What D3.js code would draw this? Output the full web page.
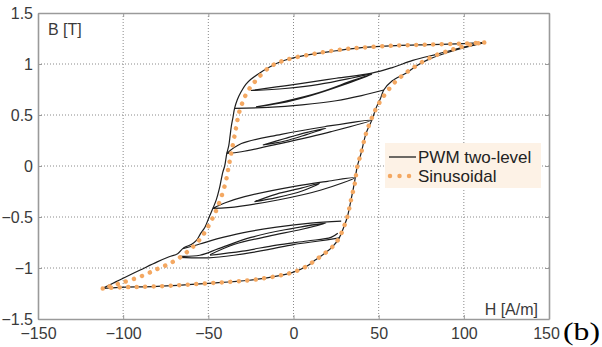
<!DOCTYPE html>
<html>
<head>
<meta charset="utf-8">
<script src="https://cdn.jsdelivr.net/npm/d3@7"></script>
<style>
  html, body { margin: 0; padding: 0; background: #fff; }
  svg { display: block; }
</style>
</head>
<body>
<svg id="chart" width="602" height="347"></svg>
<script>
// Axis ticks
const xTicks = [-150, -100, -50, 0, 50, 100, 150];
const yTicks = [-1.5, -1, -0.5, 0, 0.5, 1, 1.5];

// Sinusoidal excitation: major hysteresis loop [H (A/m), B (T)]
const sinDescending = [
  [112, 1.21], [100, 1.2], [80, 1.19], [60, 1.18], [40, 1.16], [25, 1.135], [12, 1.1],
  [0, 1.06], [-8, 1.02], [-14, 0.97], [-22, 0.84], [-27, 0.73], [-30, 0.62], [-32, 0.52],
  [-34, 0.35], [-36.5, 0.13], [-38, 0.0], [-40, -0.17], [-44.5, -0.4], [-49, -0.56],
  [-55, -0.72], [-63, -0.85], [-72, -0.95], [-80, -1.01], [-90, -1.085], [-102, -1.15], [-112, -1.2]
];
const sinAscending = [
  [-112, -1.2], [-102, -1.19], [-80, -1.18], [-50, -1.15], [-26, -1.12], [-10, -1.08],
  [0, -1.04], [8, -0.98], [13, -0.92], [18, -0.86], [23, -0.79], [27, -0.7], [29.5, -0.6],
  [31.6, -0.5], [33.8, -0.33], [36, -0.17], [37.5, 0.0], [39.6, 0.12], [42.6, 0.32],
  [45.5, 0.45], [49, 0.58], [54, 0.71], [60, 0.83], [65, 0.9], [70, 0.96], [80, 1.06],
  [93, 1.14], [107, 1.2], [112, 1.21]
];

// PWM two-level excitation: outer branches
const pwmDescending = [
  [112, 1.21], [100, 1.2], [80, 1.19], [60, 1.18], [40, 1.16], [25, 1.13], [12, 1.1],
  [0, 1.06], [-8, 1.02], [-14, 0.97], [-20, 0.91], [-25, 0.85], [-28, 0.8], [-31, 0.72],
  [-33, 0.65], [-34.6, 0.565], [-35.5, 0.48], [-36.5, 0.39], [-37.2, 0.3], [-38, 0.2],
  [-39.2, 0.12], [-40.4, 0.0], [-41.5, -0.06], [-42.4, -0.13], [-43.5, -0.22], [-45.3, -0.33],
  [-47.3, -0.415], [-49.5, -0.5], [-52, -0.6], [-54.5, -0.66], [-57, -0.73], [-60, -0.77],
  [-63, -0.79], [-65, -0.81], [-68, -0.86], [-73, -0.89], [-80, -0.94], [-90, -1.02],
  [-100, -1.1], [-106, -1.15], [-112, -1.2]
];
const pwmAscending = [
  [-112, -1.2], [-102, -1.19], [-80, -1.18], [-50, -1.15], [-26, -1.12], [-10, -1.08],
  [0, -1.04], [8, -0.98], [13, -0.92], [18, -0.86], [23, -0.79], [27, -0.7], [29.5, -0.6],
  [31.6, -0.5], [33.8, -0.33], [35.7, -0.17], [37.5, 0.0], [39.6, 0.12], [42.6, 0.32],
  [46, 0.45], [48.5, 0.57], [51, 0.66], [53, 0.745], [58, 0.835], [66, 0.91], [73, 0.99],
  [80, 1.05], [90, 1.11], [99, 1.155], [112, 1.21]
];

// PWM two-level excitation: minor loops, lowest level first
const pwmMinorA = [
  [[-65, -0.81], [-55, -0.765], [-45, -0.715], [-30, -0.655], [-10, -0.6], [10, -0.56], [28, -0.54]],
  [[-67, -0.885], [-55, -0.875], [-44, -0.81], [-25, -0.7], [-5, -0.625], [19, -0.56],
   [5, -0.62], [-15, -0.69], [-35, -0.77], [-49, -0.87]],
  [[-67, -0.895], [-50, -0.9], [-35, -0.875], [-15, -0.82], [0, -0.77], [15, -0.735], [27, -0.705]],
  [[-49, -0.875], [-30, -0.835], [-10, -0.775], [8, -0.735], [22, -0.7], [26, -0.66]]
];
const pwmMinorB = [
  [[-47.3, -0.415], [-40, -0.36], [-28.7, -0.3], [0.6, -0.2], [20, -0.15], [35.7, -0.115],
   [16.2, -0.235], [-9.2, -0.333], [-38.5, -0.409], [-47.3, -0.415]],
  [[-22.9, -0.35], [-10, -0.275], [5, -0.215], [15.2, -0.17], [5, -0.245], [-10, -0.31], [-22.9, -0.35]]
];
const pwmMinorC = [
  [[-39.2, 0.124], [-30.6, 0.22], [-7.2, 0.31], [18.2, 0.385], [46, 0.45],
   [22.1, 0.337], [-7.2, 0.222], [-30.6, 0.14], [-39.2, 0.124]],
  [[-18, 0.206], [-5, 0.27], [8, 0.33], [19, 0.37], [8, 0.31], [-5, 0.245], [-18, 0.206]]
];
const pwmMinorD = [
  [[-25, 0.74], [-10, 0.775], [5, 0.81], [25, 0.86], [46, 0.91], [58, 0.965], [70, 1.035],
   [85, 1.1], [100, 1.165], [112, 1.21]],
  [[-25, 0.74], [-5, 0.76], [15, 0.8], [35, 0.865], [46, 0.905]],
  [[-22, 0.58], [-5, 0.635], [15, 0.72], [35, 0.84], [46, 0.9], [30, 0.8], [10, 0.69],
   [-8, 0.615], [-22, 0.58]],
  [[-34.6, 0.565], [-15, 0.575], [5, 0.6], [25, 0.64], [40, 0.69], [53, 0.745]]
];

const legendItems = ["PWM two-level", "Sinusoidal"];

// Layout
const plotLeft = 38, plotRight = 549, plotTop = 13, plotBottom = 319;
const x = d3.scaleLinear().domain([-150, 150]).range([plotLeft, plotRight]);
const y = d3.scaleLinear().domain([-1.5, 1.5]).range([plotBottom, plotTop]);

const svg = d3.select("#chart");
const font = "Arial, 'Liberation Sans', sans-serif";
const axisGrey = "#9a9a9a";
const textGrey = "#3a3a3a";
const sinColor = "#f4a862";
const pwmColor = "#1e1e1e";

// Dotted grid
const grid = svg.append("g");
grid.selectAll(".gx").data(xTicks.slice(1, -1)).join("line")
  .attr("x1", d => x(d)).attr("x2", d => x(d))
  .attr("y1", plotTop).attr("y2", plotBottom)
  .attr("stroke", "#8a8a8a").attr("stroke-width", 1)
  .attr("stroke-dasharray", "1,2");
grid.selectAll(".gy").data(yTicks.slice(1, -1)).join("line")
  .attr("x1", plotLeft).attr("x2", plotRight)
  .attr("y1", d => y(d)).attr("y2", d => y(d))
  .attr("stroke", "#8a8a8a").attr("stroke-width", 1)
  .attr("stroke-dasharray", "1,2");

// Axes with inward ticks, plus the box
const xAxis = svg.append("g").attr("transform", `translate(0,${plotBottom})`)
  .call(d3.axisBottom(x).tickValues(xTicks).tickSizeInner(-4).tickSizeOuter(0).tickPadding(8)
    .tickFormat(d3.format("d")));
const yAxis = svg.append("g").attr("transform", `translate(${plotLeft},0)`)
  .call(d3.axisLeft(y).tickValues(yTicks).tickSizeInner(-4).tickSizeOuter(0).tickPadding(5)
    .tickFormat(d => d3.format("")(d)));
const xAxisTop = svg.append("g").attr("transform", `translate(0,${plotTop})`)
  .call(d3.axisTop(x).tickValues(xTicks).tickSizeInner(-4).tickSizeOuter(0).tickFormat(""));
const yAxisRight = svg.append("g").attr("transform", `translate(${plotRight},0)`)
  .call(d3.axisRight(y).tickValues(yTicks).tickSizeInner(-4).tickSizeOuter(0).tickFormat(""));

[xAxis, yAxis, xAxisTop, yAxisRight].forEach(g => {
  g.select(".domain").attr("stroke", axisGrey).attr("stroke-width", 1.6);
  g.selectAll(".tick line").attr("stroke", axisGrey);
  g.selectAll(".tick text").attr("fill", textGrey).style("font-family", font).style("font-size", "16px");
});
xAxis.selectAll(".tick text").attr("dy", "0.75em");
// the last x label sits a little inside so it clears the panel label
xAxis.selectAll(".tick text").filter(d => d === 150).attr("dx", "-3");

// Curves
const line = d3.line().x(d => x(d[0])).y(d => y(d[1])).curve(d3.curveCatmullRom.alpha(0.5));
const curves = svg.append("g");

const pwmPaths = [pwmDescending, pwmAscending, ...pwmMinorA, ...pwmMinorB, ...pwmMinorC, ...pwmMinorD];
curves.selectAll(".pwm").data(pwmPaths).join("path")
  .attr("d", line)
  .attr("fill", "none")
  .attr("stroke", pwmColor)
  .attr("stroke-width", 1.2)
  .attr("stroke-linejoin", "round");

curves.selectAll(".sin").data([sinDescending, sinAscending]).join("path")
  .attr("d", line)
  .attr("fill", "none")
  .attr("stroke", sinColor)
  .attr("stroke-width", 4.5)
  .attr("stroke-linecap", "round")
  .attr("stroke-dasharray", "0.01,8.5");

// Axis titles
svg.append("text").attr("x", 48).attr("y", 35)
  .attr("fill", textGrey).style("font-family", font).style("font-size", "16px")
  .text("B [T]");
svg.append("text").attr("x", 538).attr("y", 315).attr("text-anchor", "end")
  .attr("fill", textGrey).style("font-family", font).style("font-size", "16px")
  .text("H [A/m]");

// Legend
const legend = svg.append("g");
legend.append("rect").attr("x", 385).attr("y", 143).attr("width", 156).attr("height", 45)
  .attr("fill", "#fdf2e6");
const legendY = [157, 176];
legend.selectAll(".lt").data(legendItems).join("text")
  .attr("x", 418).attr("y", (d, i) => legendY[i]).attr("dy", "0.35em")
  .attr("fill", "#222").style("font-family", font).style("font-size", "17px")
  .text(d => d);
legend.append("line").attr("x1", 389).attr("x2", 416).attr("y1", legendY[0]).attr("y2", legendY[0])
  .attr("stroke", pwmColor).attr("stroke-width", 1.3);
legend.append("line").attr("x1", 390).attr("x2", 416).attr("y1", legendY[1]).attr("y2", legendY[1])
  .attr("stroke", sinColor).attr("stroke-width", 4.5).attr("stroke-linecap", "round")
  .attr("stroke-dasharray", "0.01,9.5");

// Panel label
svg.append("text").attr("x", 563).attr("y", 340)
  .attr("textLength", 37).attr("lengthAdjust", "spacingAndGlyphs")
  .attr("fill", "#000").style("font-family", "'Liberation Serif', 'Times New Roman', serif")
  .style("font-size", "25px").text("(b)");
</script>
</body>
</html>
